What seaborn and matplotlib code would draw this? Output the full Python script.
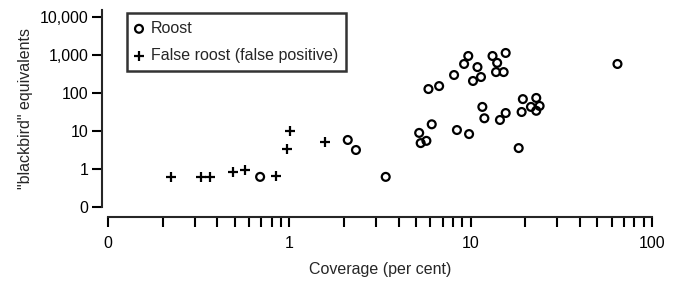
import matplotlib
matplotlib.use("Agg")
import matplotlib.pyplot as plt
import matplotlib.ticker as mticker
import numpy as np
import pandas as pd
import seaborn as sns

# --- data ---
roost_cov = [0.69, 2.1, 2.33, 3.4, 5.2, 5.3, 5.7, 6.1, 5.85, 6.7, 8.1, 8.4, 9.2, 9.7, 9.8,
             10.3, 10.9, 11.4, 11.6, 11.9, 13.2, 14.0, 13.8, 14.5, 15.2, 15.6, 15.6,
             18.4, 19.1, 19.4, 21.5, 23.0, 23.0, 24.0, 64.5]
roost_birds = [0.62, 5.8, 3.16, 0.62, 8.9, 4.8, 5.5, 15, 127, 152, 297, 10.6, 580, 940, 8.3,
               207, 480, 263, 43, 21.6, 940, 620, 355, 19.5, 355, 1130, 29.7,
               3.55, 31.6, 69, 43, 74, 34, 45.6, 580]
false_cov = [0.223, 0.325, 0.365, 0.487, 0.57, 0.84, 0.975, 1.01, 1.57]
false_birds = [0.62, 0.62, 0.62, 0.83, 0.94, 0.65, 3.36, 10, 5.1]

x_ticks = [0.1, 1, 10, 100]
x_labels = ["0", "1", "10", "100"]
y_ticks = [0.1, 1, 10, 100, 1000, 10000]
y_labels = ["0", "1", "10", "100", "1,000", "10,000"]

roost = pd.DataFrame({"cov": roost_cov, "birds": roost_birds})
false = pd.DataFrame({"cov": false_cov, "birds": false_birds})

sns.set_style("ticks")
plt.rcParams["font.family"] = ["Liberation Sans", "DejaVu Sans"]
fs = 11.5

fig = plt.figure(figsize=(6.75, 2.82), dpi=100)
ax = fig.add_axes([108 / 675, 0.266, 544 / 675, 0.6975])

sns.scatterplot(data=roost, x="cov", y="birds", ax=ax, marker="o", s=32,
                facecolor="none", edgecolor="black", linewidth=1.6, label="Roost")
sns.scatterplot(data=false, x="cov", y="birds", ax=ax, marker="+", s=45,
                color="black", linewidth=1.6, label="False roost (false positive)")

ax.set_xscale("log")
ax.set_yscale("log")
ax.set_xlim(0.1, 100)
ax.set_ylim(0.1, 15000)

ax.set_xticks(x_ticks)
ax.set_xticklabels(x_labels)
ax.xaxis.set_minor_locator(mticker.LogLocator(base=10, subs=np.arange(2, 10)))
ax.xaxis.set_minor_formatter(mticker.NullFormatter())
ax.set_yticks(y_ticks)
ax.set_yticklabels(y_labels)
ax.yaxis.set_minor_locator(mticker.NullLocator())

ax.tick_params(axis="x", which="both", length=7, width=1.5, direction="out", pad=7,
               labelsize=fs, colors="black")
ax.tick_params(axis="y", which="major", length=7, width=1.5, direction="out", pad=3,
               labelsize=fs, colors="black")

for side in ["top", "right"]:
    ax.spines[side].set_visible(False)
ax.spines["left"].set_linewidth(1.5)
ax.spines["bottom"].set_linewidth(1.5)
ax.spines["left"].set_position(("outward", 4))
ax.spines["bottom"].set_position(("outward", 7))

ax.set_xlabel("Coverage (per cent)", fontsize=fs, labelpad=8)
ax.set_ylabel('"blackbird" equivalents', fontsize=fs, labelpad=5)

ax.legend_.remove()
handles, labels = ax.get_legend_handles_labels()
leg = fig.legend(handles, labels, loc="upper left", bbox_to_anchor=(127 / 675, 1 - 13 / 282),
                 frameon=True, fancybox=False, handlelength=0.5, handletextpad=0.5,
                 borderaxespad=0, borderpad=0.5, labelspacing=0.75, fontsize=fs)
leg.get_frame().set_edgecolor("black")
leg.get_frame().set_linewidth(1.8)

fig.savefig("out.png", dpi=100)
